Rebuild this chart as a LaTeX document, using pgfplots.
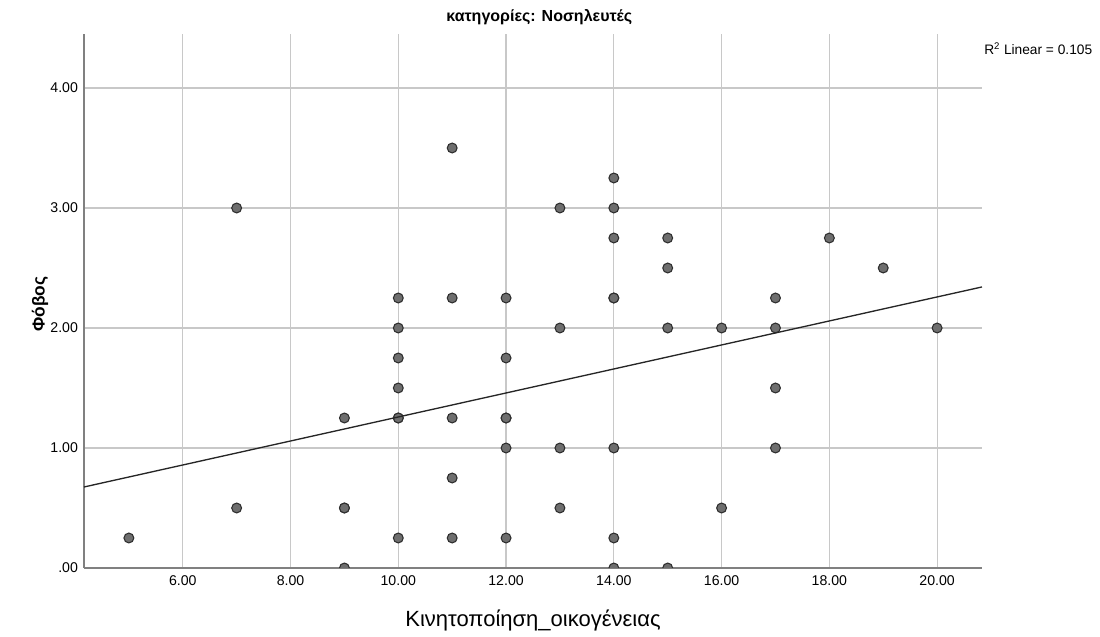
\documentclass[border=0pt]{standalone}
\usepackage{fontspec}
\setmainfont{Liberation Sans}
\usepackage{pgfplots}
\pgfplotsset{compat=1.18}
\usetikzlibrary{calc}
\definecolor{gridc}{HTML}{C8C8C8}
\definecolor{axc}{HTML}{808080}
\definecolor{ptfill}{HTML}{6E6E6E}
\definecolor{ptdraw}{HTML}{2E2E2E}
\begin{document}
\begin{tikzpicture}
\begin{axis}[
  name=ax,
  scale only axis,
  width=673.5pt, height=400.5pt,
  xmin=4.167, xmax=20.833,
  ymin=0, ymax=4.45,
  axis x line=bottom, axis y line=left,
  axis line style={-, axc, line width=1.3pt},
  xtick={6,8,10,12,14,16,18,20},
  xticklabels={6.00,8.00,10.00,12.00,14.00,16.00,18.00,20.00},
  ytick={0,1,2,3,4},
  yticklabels={.00,1.00,2.00,3.00,4.00},
  major tick length=0pt,
  tick label style={font=\fontsize{10.6pt}{12pt}\selectfont},
  xticklabel style={yshift=-2pt},
  yticklabel style={xshift=-1pt},
  grid=major,
  major grid style={gridc, line width=0.9pt},
  clip marker paths=true,
  xlabel={Κινητοποίηση\_οικογένειας},
  xlabel style={font=\fontsize{16.5pt}{18pt}\selectfont, at={(axis description cs:0.5,0)}, anchor=center, yshift=-39.5pt},
  ylabel={\textbf{Φόβος}},
  ylabel style={font=\fontsize{13pt}{15pt}\selectfont, at={(axis description cs:0,0.494)}, anchor=center, yshift=33pt},
  title={\textbf{κατηγορίες: Νοσηλευτές}},
  title style={font=\fontsize{12pt}{14pt}\selectfont, at={(axis description cs:0.507,1)}, anchor=center, yshift=7pt},
]
\addplot[only marks, mark=*, mark size=3.7pt, mark options={fill=ptfill, draw=ptdraw, line width=0.8pt}] coordinates {
(5,0.25)
(7,3.00) (7,0.50)
(9,1.25) (9,0.50) (9,0.50) (9,0.00)
(10,2.25) (10,2.00) (10,1.75) (10,1.50) (10,1.25) (10,1.25) (10,0.25)
(11,3.50) (11,2.25) (11,1.25) (11,0.75) (11,0.25)
(12,2.25) (12,1.75) (12,1.25) (12,1.25) (12,1.00) (12,0.25)
(13,3.00) (13,2.00) (13,1.00) (13,0.50)
(14,3.25) (14,3.00) (14,2.75) (14,2.25) (14,2.25) (14,1.00) (14,0.25) (14,0.00)
(15,2.75) (15,2.50) (15,2.00) (15,0.00)
(16,2.00) (16,0.50)
(17,2.25) (17,2.00) (17,1.50) (17,1.00)
(18,2.75)
(19,2.50)
(20,2.00)
};
\addplot[black!85, line width=1pt, no marks] coordinates {(4.167,0.675) (20.833,2.342)};
\end{axis}
\node[anchor=west, font=\fontsize{10.3pt}{12pt}\selectfont, inner sep=0pt] at ($(ax.north east)+(1.5pt,-11.25pt)$) {R\textsuperscript{2} Linear = 0.105};
\pgfresetboundingbox
\useasboundingbox ($(ax.south west)+(-63pt,-51.75pt)$) rectangle ($(ax.north east)+(88.5pt,25.5pt)$);
\end{tikzpicture}
\end{document}
